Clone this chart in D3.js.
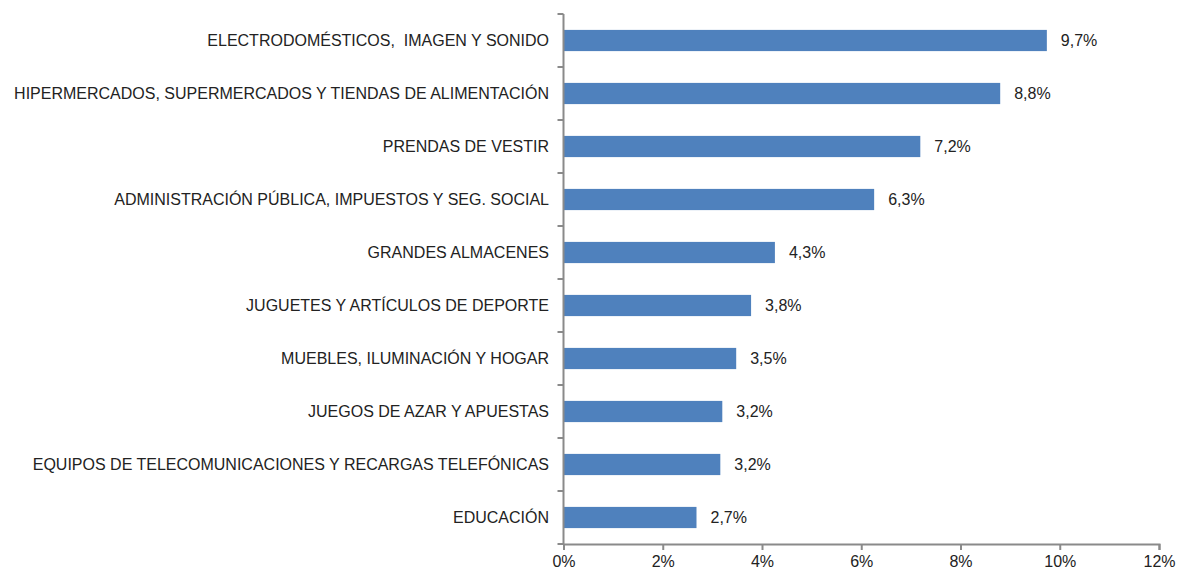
<!DOCTYPE html>
<html><head><meta charset="utf-8">
<script src="https://cdn.jsdelivr.net/npm/d3@7"></script>
<style>
body{margin:0;background:#fff;}
text{font-family:"Liberation Sans",Arial,sans-serif;fill:#222;}
</style></head>
<body><svg id="c" width="1177" height="573"></svg>
<script>
const categories = [
  "ELECTRODOMÉSTICOS,  IMAGEN Y SONIDO",
  "HIPERMERCADOS, SUPERMERCADOS Y TIENDAS DE ALIMENTACIÓN",
  "PRENDAS DE VESTIR",
  "ADMINISTRACIÓN PÚBLICA, IMPUESTOS Y SEG. SOCIAL",
  "GRANDES ALMACENES",
  "JUGUETES Y ARTÍCULOS DE DEPORTE",
  "MUEBLES, ILUMINACIÓN Y HOGAR",
  "JUEGOS DE AZAR Y APUESTAS",
  "EQUIPOS DE TELECOMUNICACIONES Y RECARGAS TELEFÓNICAS",
  "EDUCACIÓN"
];
const values = [9.74, 8.80, 7.19, 6.26, 4.26, 3.78, 3.48, 3.20, 3.16, 2.68];
const xTicks = [0, 2, 4, 6, 8, 10, 12];

const svg = d3.select("#c");
const x0 = 563.5, x1 = 1159, yTop = 14, yBot = 544;
const x = d3.scaleLinear().domain([0, 12]).range([x0, x1]);
const y = d3.scaleBand().domain(categories).range([yTop, yBot]).paddingInner(0.6).paddingOuter(0.3);
const axisColor = "#8a8a8a";
const fs = 16;

// bars
svg.append("g").selectAll("rect").data(values).join("rect")
  .attr("x", x(0))
  .attr("y", (d, i) => y(categories[i]))
  .attr("width", d => x(d) - x(0))
  .attr("height", y.bandwidth())
  .attr("fill", "#4f81bd");

// value labels
svg.append("g").selectAll("text").data(values).join("text")
  .attr("x", d => x(d) + 14)
  .attr("y", (d, i) => y(categories[i]) + y.bandwidth() / 2)
  .attr("dy", "0.36em")
  .attr("font-size", fs)
  .text(d => d.toFixed(1).replace(".", ",") + "%");

// category labels
svg.append("g").selectAll("text").data(categories).join("text")
  .attr("x", 549)
  .attr("y", d => y(d) + y.bandwidth() / 2)
  .attr("dy", "0.36em")
  .attr("text-anchor", "end")
  .attr("font-size", fs)
  .style("white-space", "pre")
  .text(d => d);

// y axis line and boundary ticks
const bounds = d3.range(categories.length + 1).map(i => yTop + i * (yBot - yTop) / categories.length);
const ga = svg.append("g").attr("stroke", axisColor).attr("stroke-width", 2);
ga.append("line").attr("x1", x0).attr("x2", x0).attr("y1", yTop).attr("y2", yBot);
ga.selectAll("line.yt").data(bounds).join("line").attr("class", "yt")
  .attr("x1", x0 - 6).attr("x2", x0).attr("y1", d => d).attr("y2", d => d);

// x axis
const xAxis = d3.axisBottom(x).tickValues(xTicks).tickSize(6).tickFormat(d => d + "%");
const gx = svg.append("g").attr("transform", `translate(0,${yBot})`).call(xAxis);
gx.select(".domain").attr("stroke", axisColor).attr("stroke-width", 2);
gx.selectAll(".tick line").attr("stroke", axisColor).attr("stroke-width", 2);
gx.selectAll(".tick text").attr("font-size", fs).attr("font-family", "Liberation Sans, Arial, sans-serif").attr("fill", "#222").attr("dy", "0.85em");
</script></body></html>
